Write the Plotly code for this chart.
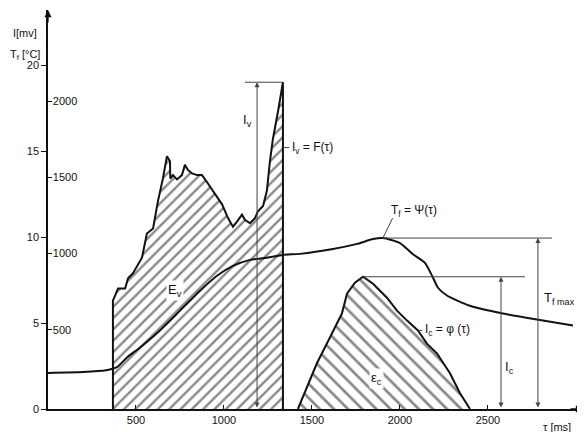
import plotly.graph_objects as go

# ---- data ----
# I_v = F(tau): radiation signal during volatile combustion [mV]
tv = [369, 369, 398, 438, 455, 483, 534, 562, 597, 625, 653, 665, 676, 693, 695, 710, 733, 761,
      778, 795, 818, 847, 875, 903, 949, 989, 1023, 1051, 1074, 1102, 1119, 1148, 1176, 1193,
      1222, 1244, 1261, 1278, 1307, 1335, 1335]
iv = [0, 6.3, 7.0, 7.0, 7.6, 7.9, 8.8, 10.2, 10.5, 12.1, 13.4, 14.1, 14.7, 14.4, 13.4, 13.6, 13.35,
      13.6, 14.2, 13.9, 13.7, 13.6, 13.6, 13.2, 12.5, 11.9, 11.1, 10.6, 10.9, 11.3, 11.0, 10.8,
      11.1, 11.5, 11.8, 12.7, 14.4, 15.7, 17.3, 19.0, 0]

# T_f = Psi(tau): particle temperature (plotted on the mV scale)
tf_t = [0, 200, 330, 392, 449, 523, 636, 750, 864, 960, 1051, 1148, 1244, 1335, 1432, 1619, 1756,
        1847, 1903, 2000, 2074, 2142, 2188, 2216, 2267, 2398, 2585, 2778, 2983]
tf_i = [2.1, 2.15, 2.25, 2.43, 3.0, 3.58, 4.57, 5.72, 6.88, 7.75, 8.32, 8.67, 8.79, 8.96, 9.02, 9.3,
        9.6, 9.88, 9.94, 9.65, 9.0, 8.5, 7.63, 7.05, 6.6, 6.0, 5.55, 5.2, 4.86]

# I_c = phi(tau): radiation signal during char combustion [mV]
tc = [1420, 1472, 1528, 1602, 1670, 1699, 1744, 1790, 1847, 1926, 1983, 2040, 2102, 2153, 2210,
      2284, 2341, 2398]
ic = [0, 1.27, 2.66, 4.16, 5.55, 6.7, 7.34, 7.69, 7.28, 6.47, 5.72, 5.14, 4.57, 3.8, 3.24, 2.08,
      0.92, 0]

x_ticks = [500, 1000, 1500, 2000, 2500]
i_ticks = [0, 5, 10, 15, 20]
t_ticks = [500, 1000, 1500, 2000]

INK = "#111111"
THIN = "#444444"
FONT = "Liberation Sans"

fig = go.Figure()

fig.add_trace(go.Scatter(
    x=tv, y=iv, mode="lines", fill="toself", fillcolor="white",
    fillpattern=dict(shape="/", size=8, solidity=0.3, fgcolor="#111111", bgcolor="white"),
    line=dict(color=INK, width=2), showlegend=False, hoverinfo="skip"))

fig.add_trace(go.Scatter(
    x=tc, y=ic, mode="lines", fill="tozeroy", fillcolor="white",
    fillpattern=dict(shape="\\", size=10, solidity=0.27, fgcolor="#111111", bgcolor="white"),
    line=dict(color=INK, width=2), showlegend=False, hoverinfo="skip"))

fig.add_trace(go.Scatter(
    x=tf_t, y=tf_i, mode="lines", line=dict(color=INK, width=2, shape="spline", smoothing=0.6),
    showlegend=False, hoverinfo="skip"))

# dummy trace for the temperature axis
fig.add_trace(go.Scatter(x=[None], y=[None], yaxis="y2", showlegend=False))

iv_max = max(iv)
tf_max = max(tf_i)
tf_peak_t = tf_t[tf_i.index(tf_max)]
ic_max = max(ic)
ic_peak_t = tc[ic.index(ic_max)]

shapes = [
    dict(type="line", x0=1119, x1=tv[-1], y0=iv_max, y1=iv_max, line=dict(color=THIN, width=1)),
    dict(type="line", x0=tf_peak_t, x1=2864, y0=tf_max, y1=tf_max, line=dict(color=THIN, width=1)),
    dict(type="line", x0=ic_peak_t, x1=2710, y0=ic_max, y1=ic_max, line=dict(color=THIN, width=1)),
    dict(type="line", x0=tv[-1], x1=1372, y0=15.2, y1=15.2, line=dict(color=THIN, width=1)),
    dict(type="line", x0=tf_peak_t, x1=1958, y0=tf_max, y1=11.1, line=dict(color=THIN, width=1)),
    dict(type="line", x0=2102, x1=2128, y0=4.57, y1=4.57, line=dict(color=THIN, width=1)),
]

ann = []
# double-headed dimension arrows
for xx, top in [(1188, iv_max), (2574, ic_max), (2784, tf_max)]:
    ann.append(dict(x=xx, y=top, ax=xx, ay=0, xref="x", yref="y", axref="x", ayref="y",
                    showarrow=True, arrowhead=2, arrowsize=1, arrowwidth=1, arrowcolor=THIN,
                    arrowside="end+start", text=""))
# axis arrows
ann.append(dict(x=0, y=1.0, xref="x", yref="paper", ax=0, ay=14, showarrow=True, arrowhead=2,
                arrowsize=1.1, arrowwidth=1.3, arrowcolor=INK, text=""))
ann.append(dict(x=1.0, y=0, xref="paper", yref="y", ax=-14, ay=0, showarrow=True, arrowhead=2,
                arrowsize=1.1, arrowwidth=1.3, arrowcolor=INK, text=""))

def label(x, y, text, xanchor="center", size=12, bg=None, ref="data"):
    d = dict(x=x, y=y, text=text, showarrow=False, xanchor=xanchor,
             yanchor="middle", font=dict(family=FONT, size=size, color=INK))
    if ref == "paper":
        d.update(xref="paper", yref="paper")
    else:
        d.update(xref="x", yref="y")
    if bg:
        d["bgcolor"] = bg
    ann.append(d)

label(1376, 15.2, "I<sub>v</sub> = F(τ)", xanchor="left", size=12)
label(1136, 16.8, "I<sub>v</sub>", size=13)
label(1935, 11.5, "T<sub>f</sub> = Ψ(τ)", xanchor="left", size=12)
label(2130, 4.57, "I<sub>c</sub> = φ (τ)", xanchor="left", size=12)
label(722, 6.9, "E<sub>v</sub>", size=13, bg="white")
label(1869, 1.8, "ε<sub>c</sub>", size=13, bg="white")
label(2909, 6.45, "T<sub>f max</sub>", size=13)
label(2625, 2.4, "I<sub>c</sub>", size=13)
label(-0.043, 0.942, "I[mv]", size=11, ref="paper")
label(-0.043, 0.887, "T<sub>f</sub> [°C]", size=11, ref="paper")
label(0.951, -0.045, "τ [ms]", size=11, ref="paper")

# the page body has an 8 px margin, so the figure is laid out 8 px up/left
fig.update_layout(
    width=585, height=432,
    margin=dict(l=40, r=10, t=2, b=31),
    paper_bgcolor="white", plot_bgcolor="white",
    shapes=shapes, annotations=ann,
    xaxis=dict(range=[0, 3040], tickvals=x_ticks, ticks="inside", ticklen=4, tickcolor=INK,
               showline=True, linecolor=INK, linewidth=1.5, showgrid=False, zeroline=False,
               tickfont=dict(family=FONT, size=11, color=INK), fixedrange=True),
    yaxis=dict(range=[0, 23.2], tickvals=i_ticks, ticks="outside", ticklen=5, tickcolor=INK,
               showline=True, linecolor=INK, linewidth=1.5, showgrid=False, zeroline=False,
               tickfont=dict(family=FONT, size=11, color=INK), fixedrange=True),
    yaxis2=dict(overlaying="y", side="left", anchor="x", range=[-21, 2600], tickvals=t_ticks,
                ticks="inside", ticklen=4, tickcolor=INK, ticklabelposition="inside",
                showline=False, showgrid=False, zeroline=False,
                tickfont=dict(family=FONT, size=11, color=INK), fixedrange=True),
    showlegend=False,
)

fig.write_html("out.html")
